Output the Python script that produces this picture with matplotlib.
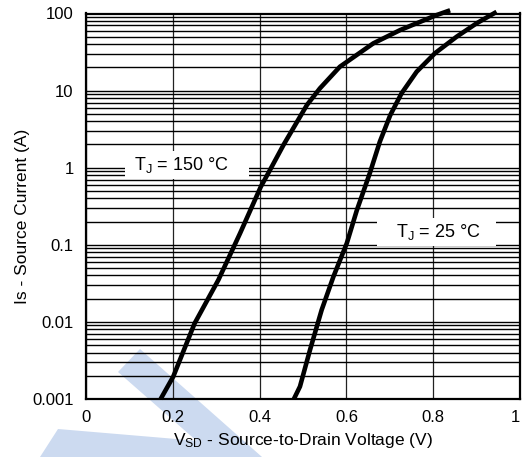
import numpy as np
import matplotlib
matplotlib.use("Agg")
import matplotlib.pyplot as plt
from matplotlib.patches import Polygon
from matplotlib.ticker import LogLocator

plt.rcParams['font.family'] = ['Liberation Sans', 'DejaVu Sans']
plt.rcParams['mathtext.default'] = 'regular'

# source-drain diode forward curves
vsd_150 = [0.172, 0.201, 0.250, 0.305, 0.355, 0.403, 0.420, 0.455, 0.509,
           0.539, 0.585, 0.662, 0.724, 0.808, 0.839]
is_150 = [0.001, 0.00195, 0.0095, 0.035, 0.141, 0.57, 0.85, 1.97, 6.5,
          10.7, 20.4, 41, 61, 95.5, 110]

vsd_25 = [0.479, 0.493, 0.516, 0.543, 0.570, 0.601, 0.624, 0.654, 0.677,
          0.701, 0.727, 0.762, 0.804, 0.854, 0.900, 0.946]
is_25 = [0.001, 0.00145, 0.0043, 0.0143, 0.0385, 0.105, 0.28, 0.85, 2.17,
         4.8, 9.2, 17.6, 30.5, 50, 74.6, 105]

x_ticks = [0, 0.2, 0.4, 0.6, 0.8, 1]
x_labels = ['0', '0.2', '0.4', '0.6', '0.8', '1']
y_ticks = [0.001, 0.01, 0.1, 1, 10, 100]
y_labels = ['0.001', '0.01', '0.1', '1', '10', '100']

W, H = 523, 457
fig = plt.figure(figsize=(W / 100, H / 100), dpi=100)

# faint blue watermark behind the plot
wm = '#ccdaf0'
band1 = [(118, 372), (140, 349), (262, 457), (215, 457)]
band2 = [(40, 457), (58, 429), (200, 441), (225, 457)]
for pts in (band1, band2):
    fig.patches.append(Polygon([(x / W, 1 - y / H) for x, y in pts],
                               closed=True, transform=fig.transFigure,
                               facecolor=wm, edgecolor='none', zorder=-1))

ax = fig.add_axes([86 / W, 58 / H, 434 / W, 385.5 / H])
ax.patch.set_alpha(0)
ax.set_yscale('log')
ax.set_xlim(0, 1)
ax.set_ylim(0.001, 100)

ax.set_xticks(x_ticks)
ax.set_xticklabels(x_labels)
ax.set_yticks(y_ticks)
ax.set_yticklabels(y_labels)
ax.yaxis.set_minor_locator(LogLocator(base=10, subs=np.arange(2, 10)))
ax.yaxis.set_minor_formatter(plt.NullFormatter())
ax.tick_params(which='both', length=0, labelsize=12)
ax.tick_params(axis='y', pad=9)
ax.tick_params(axis='x', pad=8)
# last x label sits on the figure edge; keep it inside
ax.get_xticklabels()[-1].set_horizontalalignment('right')

# grid: black decades, mixed black/grey minor lines like the scan
ax.grid(True, which='major', axis='y', color='black', lw=1.0)
ax.grid(True, which='major', axis='x', color='#222222', lw=0.9)
ax.grid(True, which='minor', axis='y', color='black', lw=1.0)
for t in ax.yaxis.get_minor_ticks():
    loc = t.get_loc()
    if loc <= 0:
        continue
    mant = round(loc / 10 ** np.floor(np.log10(loc) + 1e-9))
    if mant in (3, 4, 5, 9):
        t.gridline.set_color('#7f7f7f')
        t.gridline.set_linewidth(1.4)

for s in ax.spines.values():
    s.set_linewidth(1.6)
    s.set_color('black')

ax.plot(vsd_150, is_150, color='black', lw=3.3, solid_capstyle='butt',
        clip_on=False, zorder=5)
ax.plot(vsd_25, is_25, color='black', lw=3.3, solid_capstyle='butt',
        clip_on=False, zorder=5)

box = dict(boxstyle='square,pad=0.22', facecolor='white', edgecolor='none')
ax.text(0.232, 1.07, ' T$_J$ = 150 °C    ', fontsize=13, ha='center',
        va='center', bbox=box, zorder=4)
ax.text(0.808, 0.148, '   T$_J$ = 25 °C   ', fontsize=13, ha='center',
        va='center', bbox=box, zorder=4)

ax.set_xlabel('V$_{SD}$ - Source-to-Drain Voltage (V)', fontsize=12.5,
              labelpad=4)
ax.set_ylabel('Is - Source Current (A)', fontsize=12.5)
ax.yaxis.set_label_coords(-0.128, 0.475)

fig.savefig('out.png', dpi=100)
